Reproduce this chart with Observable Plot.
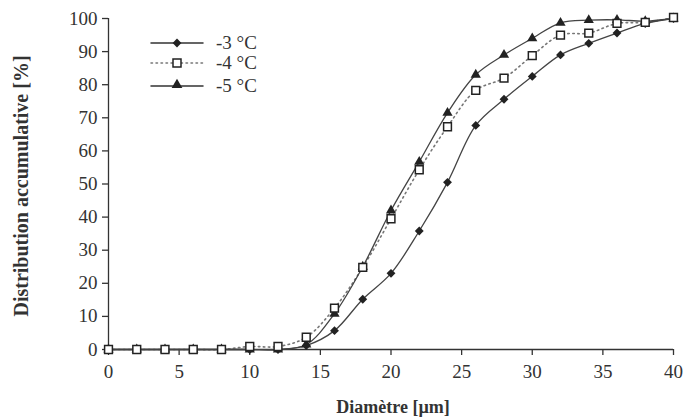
<!DOCTYPE html>
<html><head><meta charset="utf-8">
<script src="https://cdn.jsdelivr.net/npm/d3@7"></script>
<script src="https://cdn.jsdelivr.net/npm/@observablehq/plot@0.6"></script>
<style>
body{margin:0;background:#fff;}
#wrap{position:relative;width:683px;height:418px;font-family:"Liberation Serif","Times New Roman",serif;}
#legend{position:absolute;left:150px;top:33px;}
</style>
</head><body>
<div id="wrap"><div id="chart"></div><div id="legend"></div></div>
<script>
const diameters = [0,2,4,6,8,10,12,14,16,18,20,22,24,26,28,30,32,34,36,38,40];
const m3 = [0,0,0,0,0,0,0,1.2,5.7,15.2,23,35.8,50.5,67.7,75.6,82.5,89,92.5,95.6,98.5,100];
const m4 = [0,0,0,0,0,0.9,0.9,3.7,12.5,24.8,39.5,54.3,67.3,78.3,82,88.8,95,95.6,98.5,98.8,100.3];
const m5 = [0,0,0,0,0,0,0,1.5,10.8,25,42,56.7,71.5,83,89,94,98.7,99.5,99.6,99.2,100];
const seriesNames = ["-3 °C","-4 °C","-5 °C"];
const xTicks = [0,5,10,15,20,25,30,35,40];
const yTicks = [0,10,20,30,40,50,60,70,80,90,100];

const rows = [m3,m4,m5].flatMap((vals,i)=>vals.map((v,j)=>({x:diameters[j],y:v,s:seriesNames[i]})));
const r3 = rows.filter(d=>d.s===seriesNames[0]);
const r4 = rows.filter(d=>d.s===seriesNames[1]);
const r5 = rows.filter(d=>d.s===seriesNames[2]);
const ink = "#333";
const serif = "'Liberation Serif','Times New Roman',serif";

const chart = Plot.plot({
  width:683, height:418,
  marginLeft:108, marginRight:10, marginTop:18, marginBottom:69,
  style:{fontFamily:serif, color:ink, background:"#fff"},
  x:{domain:[0,40]},
  y:{domain:[0,100]},
  marks:[
    Plot.ruleX([0],{y1:0,y2:100,stroke:ink,strokeWidth:1.3}),
    Plot.ruleY([0],{x1:0,x2:40,stroke:ink,strokeWidth:1.3}),
    Plot.axisX({ticks:xTicks,tickSize:6,tickPadding:9,stroke:ink,strokeWidth:1.3,label:null}),
    Plot.axisY({ticks:yTicks,tickSize:6,tickPadding:5,stroke:ink,strokeWidth:1.3,label:null}),
    Plot.line(r4,{x:"x",y:"y",curve:"catmull-rom",stroke:"#777",strokeWidth:1.6,strokeDasharray:"1.5,3.5",strokeLinecap:"round"}),
    Plot.line(r3,{x:"x",y:"y",curve:"catmull-rom",stroke:"#444",strokeWidth:1.3}),
    Plot.line(r5,{x:"x",y:"y",curve:"catmull-rom",stroke:"#444",strokeWidth:1.3}),
    Plot.dot(r3,{x:"x",y:"y",symbol:"diamond2",r:4,fill:"#222",stroke:"none"}),
    Plot.dot(r5,{x:"x",y:"y",symbol:"triangle",r:3.8,fill:"#222",stroke:"none"}),
    Plot.dot(r4,{x:"x",y:"y",symbol:"square",r:4.4,fill:"#fff",stroke:"#222",strokeWidth:1.5}),
  ]
});
document.getElementById("chart").appendChild(chart);

const svg = d3.select(chart);
svg.selectAll("text")
  .style("font-size","19px").style("font-family",serif).style("fill",ink);

// axis titles
svg.append("text").attr("x",393).attr("y",413).attr("text-anchor","middle")
  .style("font-weight","bold").style("font-size","18px").style("fill",ink)
  .style("font-family",serif).text("Diamètre [µm]");
svg.append("text").attr("transform","translate(28,186) rotate(-90)").attr("text-anchor","middle")
  .style("font-weight","bold").style("font-size","20px").style("fill",ink)
  .style("font-family",serif).text("Distribution accumulative [%]");

// legend
const leg = d3.select("#legend").append("svg").attr("width",150).attr("height",65);
const styles = [
  {dash:null,stroke:"#333",sym:"diamond"},
  {dash:"1.5,3.5",stroke:"#777",sym:"square"},
  {dash:null,stroke:"#333",sym:"triangle"}
];
const ys=[10,30,53];
seriesNames.forEach((n,i)=>{
  const g=leg.append("g").attr("transform",`translate(0,${ys[i]})`);
  g.append("line").attr("x1",1).attr("x2",53).attr("y1",0).attr("y2",0)
    .attr("stroke",styles[i].stroke).attr("stroke-width",1.5)
    .attr("stroke-dasharray",styles[i].dash).attr("stroke-linecap","round");
  if(styles[i].sym==="diamond") g.append("path").attr("d",d3.symbol(d3.symbolDiamond2,50)()).attr("transform","translate(27,0)").attr("fill","#222");
  if(styles[i].sym==="square") g.append("rect").attr("x",23).attr("y",-4).attr("width",8).attr("height",8).attr("fill","#fff").attr("stroke","#222").attr("stroke-width",1.5);
  if(styles[i].sym==="triangle") g.append("path").attr("d",d3.symbol(d3.symbolTriangle,50)()).attr("transform","translate(27,-1)").attr("fill","#222");
  g.append("text").attr("x",66).attr("y",6).style("font-size","19px").style("fill",ink)
    .style("font-family",serif).text(n);
});
</script>
</body></html>
